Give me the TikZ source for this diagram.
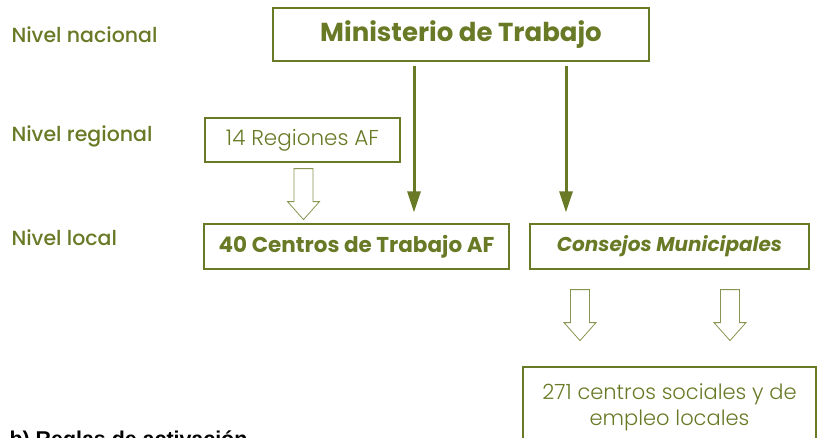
\documentclass[tikz,border=0pt]{standalone}
\usepackage{fontspec}
\setmainfont{Poppins}
\newfontfamily\medfont{Poppins Medium}
\newfontfamily\lightfont{Poppins Light}
\newfontfamily\captionfont{Liberation Sans}
\usepackage{tikz}
\usetikzlibrary{positioning}
\usetikzlibrary{arrows.meta}
\usetikzlibrary{calc}

\definecolor{olive}{RGB}{104,122,38}

\tikzset{
  level/.style = {anchor=west, text=olive, font=\medfont\fontsize{20.5}{24}\selectfont},
  box/.style = {draw=olive, line width=1.2pt, text=olive, inner sep=0pt, align=center},
  flow/.style = {draw=olive, line width=3pt, -{Triangle[width=13pt,length=21pt]}},
  hollow/.style = {draw=olive!80, line width=0.8pt, line join=miter}
}

% hollow block arrow, drawn down from its top centre
\newcommand{\hollowarrow}[1]{
  \draw[hollow] (#1) ++(-9.5,0) -- ++(0,33) -- ++(-6.5,0) -- ++(16,18)
    -- ++(16,-18) -- ++(-6.5,0) -- ++(0,-33) -- cycle;
}

\begin{document}
\begin{tikzpicture}[x=1pt, y=-1pt]
\useasboundingbox (0,0) rectangle (817,437);

\node[level] (nac) at (8,35) {Nivel nacional};
\node[level] (regl) at (8,136) {Nivel regional};
\node[level] (locl) at (8,238) {Nivel local};

\node[box, minimum width=376pt, minimum height=53pt, font=\bfseries\fontsize{26}{30}\selectfont] (min) at (461,34.5) {Ministerio de Trabajo};
\node[box, minimum width=195pt, minimum height=44pt, font=\lightfont\fontsize{21.5}{24}\selectfont] (reg) at (302.5,140) {14 Regiones AF};
\node[box, minimum width=305pt, minimum height=45pt, font=\bfseries\fontsize{21.5}{24}\selectfont] (cen) at (356.5,246.5) {40 Centros de Trabajo AF};
\node[box, minimum width=279pt, minimum height=45pt, font=\bfseries\itshape\fontsize{20}{24}\selectfont] (cons) at (669.5,246.5) {Consejos Municipales};
\node[box, minimum width=293pt, minimum height=80pt, font=\lightfont\fontsize{21}{26}\selectfont] (soc) at (669.5,407) {271 centros sociales y de\\ empleo locales};

\node[anchor=base west, font=\captionfont\bfseries\fontsize{21.4}{24}\selectfont] (regla) at (6,446) {b) Reglas de activación};

% arrows from the ministry
\draw[flow] ([xshift=-47pt,yshift=-4pt]min.south) -- ([xshift=-47pt,yshift=11pt]min.south |- cen.north);
\draw[flow] ([xshift=105pt,yshift=-4pt]min.south) -- ([xshift=105pt,yshift=11pt]min.south |- cons.north);

% hollow arrows
\coordinate (top0) at ($(reg.south)+(1,6)$);
\coordinate (top1) at ($(cons.south)+(-89.5,20)$);
\coordinate (top2) at ($(cons.south)+(60.5,20)$);
\hollowarrow{top0}
\hollowarrow{top1}
\hollowarrow{top2}
\end{tikzpicture}
\end{document}
